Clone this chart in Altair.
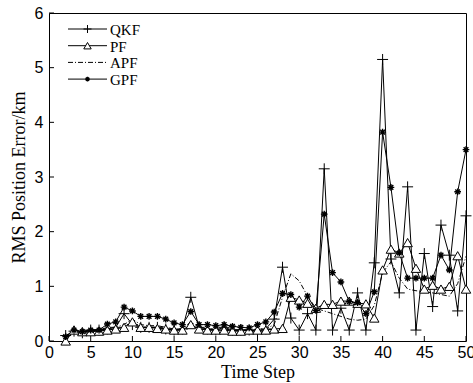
import altair as alt
import pandas as pd

steps = list(range(2, 51))
series_names = ["QKF", "PF", "APF", "GPF"]
qkf = [0.10, 0.18, 0.15, 0.20, 0.20, 0.22, 0.25, 0.50, 0.30, 0.25,
       0.25, 0.25, 0.22, 0.20, 0.22, 0.80, 0.25, 0.22, 0.20, 0.25,
       0.20, 0.20, 0.20, 0.18, 0.22, 0.40, 1.35, 0.42, 0.20, 0.50,
       0.20, 3.15, 0.20, 0.60, 0.20, 0.88, 0.20, 1.43, 5.15, 1.50,
       0.88, 2.82, 0.20, 1.60, 0.63, 2.12, 1.57, 0.55, 2.29]
pf = [0.00, 0.20, 0.17, 0.17, 0.18, 0.20, 0.22, 0.25, 0.35, 0.25,
      0.25, 0.23, 0.22, 0.20, 0.20, 0.30, 0.22, 0.20, 0.20, 0.20,
      0.18, 0.18, 0.20, 0.20, 0.20, 0.22, 0.23, 0.80, 0.75, 0.69,
      0.60, 0.67, 0.67, 0.73, 0.73, 0.69, 0.68, 0.42, 1.30, 1.68,
      1.61, 1.80, 1.33, 0.95, 1.02, 0.95, 1.00, 1.56, 0.95]
apf = [0.08, 0.20, 0.18, 0.20, 0.20, 0.25, 0.25, 0.30, 0.40, 0.30,
       0.28, 0.28, 0.25, 0.22, 0.22, 0.35, 0.25, 0.22, 0.22, 0.22,
       0.20, 0.20, 0.20, 0.22, 0.22, 0.30, 0.80, 1.23, 1.10, 0.82,
       0.60, 0.55, 0.50, 0.45, 0.40, 0.38, 0.40, 0.65, 1.25, 1.45,
       1.15, 0.95, 0.92, 0.90, 0.88, 0.85, 0.82, 1.05, 1.55]
gpf = [0.08, 0.20, 0.17, 0.20, 0.20, 0.31, 0.35, 0.62, 0.55, 0.45,
       0.45, 0.45, 0.40, 0.33, 0.30, 0.54, 0.30, 0.30, 0.28, 0.30,
       0.27, 0.25, 0.24, 0.30, 0.35, 0.53, 0.87, 0.85, 0.62, 0.82,
       0.56, 2.32, 1.25, 1.08, 0.72, 0.70, 0.50, 0.90, 3.82, 2.81,
       1.61, 1.15, 1.15, 1.15, 1.15, 1.57, 1.30, 2.73, 3.50]
x_ticks = list(range(0, 51, 5))
y_ticks = list(range(0, 7))

rows = []
for name, vals in zip(series_names, [qkf, pf, apf, gpf]):
    for t, v in zip(steps, vals):
        rows.append({"t": t, "v": v, "series": name})
df = pd.DataFrame(rows)

W, H = 417, 328
xs = alt.Scale(domain=[0, 50], nice=False, zero=False)
ys = alt.Scale(domain=[0, 6], nice=False, zero=False)

x_axis = alt.Axis(values=x_ticks, title="Time Step", labelFlush=False,
                  labelPadding=3, titlePadding=3, format="d")
y_axis = alt.Axis(values=y_ticks, title="RMS Position Error/km", labelFlush=False,
                  labelPadding=6, titlePadding=6, format="d")

base = alt.Chart(df)

solid_lines = base.transform_filter(alt.datum.series != "APF").mark_line(
    color="black", strokeWidth=1
).encode(
    x=alt.X("t:Q", scale=xs, axis=x_axis),
    y=alt.Y("v:Q", scale=ys, axis=y_axis),
    detail="series:N",
)

DASH = [5, 2, 1, 2]
apf_line = base.transform_filter(alt.datum.series == "APF").mark_line(
    color="black", strokeWidth=1, strokeDash=DASH
).encode(x=alt.X("t:Q", scale=xs), y=alt.Y("v:Q", scale=ys))

plus_path = "M-1,0H1M0,-1V1"
star_path = "M-1,0H1M0,-1V1M-0.7,-0.7L0.7,0.7M-0.7,0.7L0.7,-0.7"

# marker style per series: (shape, size, fill, strokeWidth, legend size)
marker_style = {
    "QKF": (plus_path, 120, None, 1.0, 64),
    "PF": ("triangle-up", 90, "white", 1.0, 55),
    "GPF": (star_path, 45, None, 1.4, 22),
}


def point_mark(name, legend=False):
    shape, size, fill, sw, lsize = marker_style[name]
    kw = dict(shape=shape, size=lsize if legend else size, stroke="black",
              strokeWidth=sw, opacity=1)
    if fill:
        kw.update(filled=True, fill=fill)
    else:
        kw.update(filled=False)
    return kw


point_layers = [
    base.transform_filter(alt.datum.series == name).mark_point(**point_mark(name)).encode(
        x=alt.X("t:Q", scale=xs), y=alt.Y("v:Q", scale=ys))
    for name in ["QKF", "PF", "GPF"]
]

# legend drawn in the top-left corner of the plot
LX0, LX1, LTX, LY0, LDY = 19, 58, 61, 16, 16.7
legend_layers = []
for i, name in enumerate(series_names):
    ry = LY0 + i * LDY
    ldf = pd.DataFrame({"series": [name]})
    rule_kw = dict(color="black", strokeWidth=1)
    if name == "APF":
        rule_kw["strokeDash"] = DASH
    legend_layers.append(alt.Chart(ldf).mark_rule(**rule_kw).encode(
        x=alt.value(LX0), x2=alt.value(LX1), y=alt.value(ry)))
    if name in marker_style:
        legend_layers.append(alt.Chart(ldf).mark_point(**point_mark(name, legend=True)).encode(
            x=alt.value((LX0 + LX1) / 2), y=alt.value(ry)))
    legend_layers.append(alt.Chart(ldf).mark_text(
        align="left", baseline="middle", font="Liberation Serif", fontSize=15,
        color="black").encode(
        x=alt.value(LTX), y=alt.value(ry + 1), text="series:N"))

xt = alt.Chart(pd.DataFrame({"t": x_ticks})).mark_rule(color="black", strokeWidth=1).encode(
    x=alt.X("t:Q", scale=xs), y=alt.value(H), y2=alt.value(H - 5))
yt = alt.Chart(pd.DataFrame({"v": y_ticks})).mark_rule(color="black", strokeWidth=1).encode(
    y=alt.Y("v:Q", scale=ys), x=alt.value(0), x2=alt.value(5))

chart = alt.layer(xt, yt, solid_lines, apf_line, *point_layers, *legend_layers).properties(
    width=W, height=H,
    padding={"left": 49, "top": 13, "right": 7, "bottom": 42},
    autosize=alt.AutoSizeParams(type="none"),
    background="white",
).configure_view(stroke="black", strokeWidth=1).configure_axis(
    domain=False, ticks=False, grid=False,
    labelFont="Liberation Sans", labelFontSize=16, labelColor="black",
    titleFont="Liberation Serif", titleFontSize=18, titleFontWeight="normal",
    titleColor="black",
)

chart.save("out.html", embed_options={"renderer": "svg", "actions": False})
